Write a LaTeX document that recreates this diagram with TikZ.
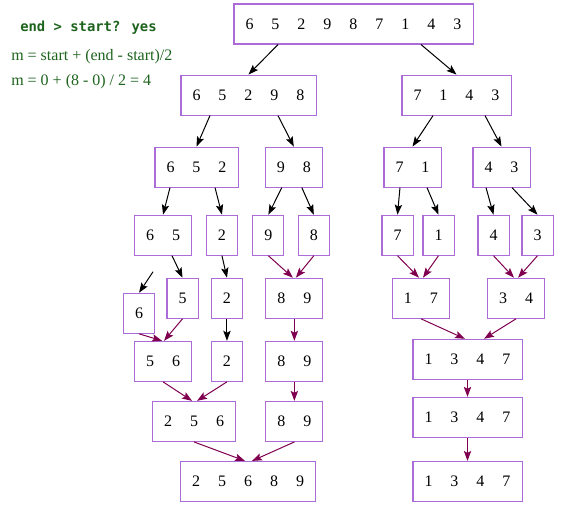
\documentclass[tikz,border=0pt]{standalone}
\usepackage{fontspec}
\setmainfont{Liberation Serif}
\newfontfamily\codefont{DejaVu Sans Mono}
\usepackage{tikz}
\usetikzlibrary{arrows.meta,positioning,calc}
\usepackage{xcolor}
\definecolor{boxpurple}{RGB}{172,108,216}
\definecolor{mergered}{RGB}{128,0,80}
\definecolor{notegreen}{RGB}{30,100,30}

% one fixed-width cell per digit
\newcommand{\cells}[1]{\foreach \d in {#1}{\makebox[19.5pt]{\d}}}

\begin{document}
\begin{tikzpicture}[
    x=0.75pt, y=-0.75pt,
    every node/.style={font=\fontsize{12}{14}\selectfont},
    arr/.style={rectangle, draw=boxpurple, line width=0.8pt, fill=white, minimum height=30pt, inner xsep=1.9pt, inner ysep=0pt, align=center},
    split/.style={-{Stealth[length=7.5pt,width=5.5pt,inset=1.5pt]}, line width=0.75pt, black},
    merge/.style={-{Stealth[length=7.5pt,width=5.5pt,inset=1.5pt]}, line width=0.75pt, mergered},
    note/.style={text=notegreen, anchor=west, inner sep=0pt}
]
    \useasboundingbox[fill=white] (0,0) rectangle (572,509);

    % Notes
    \node[note, font=\codefont\bfseries\fontsize{10.4}{12}\selectfont] (cond) at (20,28) {end > start? yes};
    \node[note] (mform) at (11,57) {m = start + (end - start)/2};
    \node[note] (mval) at (11,82) {m = 0 + (8 - 0) / 2 = 4};

    % Root
    \node[arr] (top) at (353.5,24) {\cells{6,5,2,9,8,7,1,4,3}};

    % Split - level 1
    \node[arr, below=22.5pt of top, xshift=-78.75pt] (a) {\cells{6,5,2,9,8}};
    \node[arr, below=22.5pt of top, xshift=77.25pt] (b) {\cells{7,1,4,3}};

    % Split - level 2
    \node[arr, below=23.25pt of a, xshift=-39pt] (a1) {\cells{6,5,2}};
    \node[arr, below=23.25pt of a, xshift=34pt] (a2) {\cells{9,8}};
    \node[arr, below=23.25pt of b, xshift=-33pt] (b1) {\cells{7,1}};
    \node[arr, below=23.25pt of b, xshift=33.75pt] (b2) {\cells{4,3}};

    % Split - level 3
    \node[arr, below=20.25pt of a1, xshift=-25.1pt] (n65) {\cells{6,5}};
    \node[arr, below=20.25pt of a1, xshift=19.1pt] (n2) {\cells{2}};
    \node[arr, below=20.25pt of a2, xshift=-19.1pt] (n9) {\cells{9}};
    \node[arr, below=20.25pt of a2, xshift=15pt] (n8) {\cells{8}};
    \node[arr, below=20.25pt of b1, xshift=-11.25pt] (r7) {\cells{7}};
    \node[arr, below=20.25pt of b1, xshift=19.5pt] (r1) {\cells{1}};
    \node[arr, below=20.25pt of b2, xshift=-6pt] (r4) {\cells{4}};
    \node[arr, below=20.25pt of b2, xshift=27pt] (r3) {\cells{3}};

    % Level 4
    \node[arr, below=27.75pt of n65, xshift=-18pt] (n6) {\cells{6}};
    \node[arr, below=16.5pt of n65, xshift=14.6pt] (n5) {\cells{5}};
    \node[arr, below=16.5pt of n2, xshift=3.75pt] (n2b) {\cells{2}};
    \node[arr, below=16.5pt of n9, xshift=19.5pt] (m89) {\cells{8,9}};
    \node[arr, below=16.5pt of r7, xshift=17.6pt] (m17) {\cells{1,7}};
    \node[arr, below=16.5pt of r4, xshift=16.9pt] (m34) {\cells{3,4}};

    % Level 5
    \node[arr, below=16.5pt of n5, xshift=-14.6pt] (m56) {\cells{5,6}};
    \node[arr, below=16.5pt of n2b] (n2c) {\cells{2}};
    \node[arr, below=16.5pt of m89] (m89b) {\cells{8,9}};
    \node[arr, below=15pt of m17, xshift=34.9pt] (m1347) {\cells{1,3,4,7}};

    % Level 6
    \node[arr, below=14.25pt of m56, xshift=23.25pt] (m256) {\cells{2,5,6}};
    \node[arr, below=14.25pt of m89b] (m89c) {\cells{8,9}};
    \node[arr, below=12.75pt of m1347] (m1347b) {\cells{1,3,4,7}};

    % Level 7
    \node[arr, below=14.25pt of m256, xshift=40.5pt] (final) {\cells{2,5,6,8,9}};
    \node[arr, below=17.25pt of m1347b] (m1347c) {\cells{1,3,4,7}};

    % Split edges
    \draw[split] ([xshift=-56.6pt]top.south) -- (a.north);
    \draw[split] ([xshift=50.6pt]top.south) -- (b.north);

    \draw[split] ([xshift=-28.9pt]a.south) -- (a1.north);
    \draw[split] ([xshift=22.1pt]a.south) -- (a2.north);
    \draw[split] ([xshift=-17.6pt]b.south) -- (b1.north);
    \draw[split] ([xshift=21.4pt]b.south) -- (b2.north);

    \draw[split] ([xshift=-19.9pt]a1.south) -- (n65.north);
    \draw[split] ([xshift=13.9pt]a1.south) -- (n2.north);
    \draw[split] ([xshift=-9pt]a2.south) -- (n9.north);
    \draw[split] ([xshift=6pt]a2.south) -- (n8.north);
    \draw[split] ([xshift=-9.4pt]b1.south) -- (r7.north);
    \draw[split] ([xshift=10.9pt]b1.south) -- (r1.north);
    \draw[split] ([xshift=-11.6pt]b2.south) -- (r4.north);
    \draw[split] ([xshift=7.9pt]b2.south) -- (r3.north);

    \coordinate (free6) at ([xshift=10.5pt,yshift=15.75pt]n6.north);
    \draw[split] (free6) -- (n6.north);
    \draw[split] ([xshift=6.75pt]n65.south) -- (n5.north);
    \draw[split] (n2.south) -- (n2b.north);
    \draw[split] (n2b.south) -- (n2c.north);

    % Merge edges
    \draw[merge] (n9.south) -- ([xshift=-1.1pt]m89.north);
    \draw[merge] (n8.south) -- ([xshift=1.1pt]m89.north);
    \draw[merge] (r7.south) -- ([xshift=-1.5pt]m17.north);
    \draw[merge] (r1.south) -- ([xshift=1.5pt]m17.north);
    \draw[merge] (r4.south) -- ([xshift=-1.5pt]m34.north);
    \draw[merge] (r3.south) -- ([xshift=1.5pt]m34.north);

    \draw[merge] (n6.south) -- ([xshift=-0.75pt]m56.north);
    \draw[merge] (n5.south) -- ([xshift=0.75pt]m56.north);
    \draw[merge] (m89.south) -- (m89b.north);
    \draw[merge] (m17.south) -- ([xshift=-1.9pt]m1347.north);
    \draw[merge] (m34.south) -- ([xshift=12.4pt]m1347.north);

    \draw[merge] (m56.south) -- ([xshift=-1.5pt]m256.north);
    \draw[merge] (n2c.south) -- ([xshift=2.25pt]m256.north);
    \draw[merge] (m89b.south) -- (m89c.north);
    \draw[merge] (m1347.south) -- (m1347b.north);

    \draw[merge] (m256.south) -- ([xshift=-2.25pt]final.north);
    \draw[merge] (m89c.south) -- ([xshift=3pt]final.north);
    \draw[merge] (m1347b.south) -- (m1347c.north);
\end{tikzpicture}
\end{document}
